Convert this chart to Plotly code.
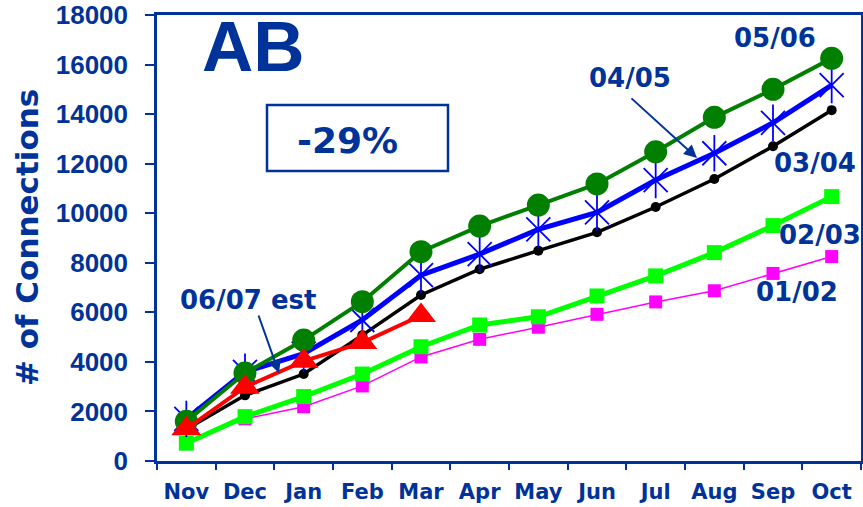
import plotly.graph_objects as go

months = ["Nov", "Dec", "Jan", "Feb", "Mar", "Apr", "May", "Jun", "Jul", "Aug", "Sep", "Oct"]
s0102 = [700, 1700, 2190, 3030, 4200, 4910, 5400, 5920, 6420, 6870, 7570, 8250]
s0203 = [720, 1790, 2600, 3510, 4610, 5490, 5820, 6660, 7470, 8410, 9500, 10670]
s0304 = [1280, 2650, 3510, 5080, 6700, 7740, 8490, 9230, 10250, 11380, 12700, 14160]
s0405 = [1700, 3600, 4330, 5690, 7500, 8350, 9350, 10030, 11340, 12420, 13650, 15170]
s0506 = [1600, 3550, 4880, 6430, 8450, 9480, 10330, 11180, 12480, 13870, 15000, 16250]
s0607_months = ["Nov", "Dec", "Jan", "Feb", "Mar"]
s0607 = [1300, 2980, 4030, 4780, 5870]
y_ticks = [0, 2000, 4000, 6000, 8000, 10000, 12000, 14000, 16000, 18000]

NAVY = "#003399"
L, R, T, B = 157, 861, 15, 461
W, H = 863, 507

def px(x):
    return (x - L) / (R - L)

def py(y):
    return (B - y) / (B - T)

fig = go.Figure()
fig.add_trace(go.Scatter(x=months, y=s0102, mode="lines+markers", name="01/02",
                         line=dict(color="#FF00FF", width=1.5),
                         marker=dict(symbol="square", size=13, color="#FF00FF")))
fig.add_trace(go.Scatter(x=months, y=s0203, mode="lines+markers", name="02/03",
                         line=dict(color="#00FF00", width=5),
                         marker=dict(symbol="square", size=15, color="#00FF00")))
fig.add_trace(go.Scatter(x=months, y=s0304, mode="lines+markers", name="03/04",
                         line=dict(color="#000000", width=3.5),
                         marker=dict(symbol="circle", size=10, color="#000000")))
fig.add_trace(go.Scatter(x=months, y=s0405, mode="lines+markers", name="04/05",
                         line=dict(color="#0000FF", width=5),
                         marker=dict(symbol="x-thin-open", size=24, color="#0000FF",
                                     line=dict(color="#0000FF", width=1.8))))
fig.add_trace(go.Scatter(x=months, y=s0405, mode="markers", name="04/05b",
                         marker=dict(symbol="line-ns-open", size=26, color="#0000FF",
                                     line=dict(color="#0000FF", width=1.8))))
fig.add_trace(go.Scatter(x=months, y=s0506, mode="lines+markers", name="05/06",
                         line=dict(color="#007F00", width=4),
                         marker=dict(symbol="circle", size=23, color="#007F00")))
fig.add_trace(go.Scatter(x=s0607_months, y=s0607, mode="lines+markers", name="06/07 est",
                         line=dict(color="#FF0000", width=4),
                         marker=dict(symbol="triangle-up", size=26, color="#FF0000")))

lab_font = dict(family="DejaVu Sans", size=26, color=NAVY)
annotations = []
for txt, cx, cy in [("05/06", 775, 38), ("04/05", 630, 78), ("03/04", 815, 163),
                    ("02/03", 820, 235), ("01/02", 797, 292), ("06/07 est", 248, 300)]:
    annotations.append(dict(text="<b>%s</b>" % txt, x=px(cx), y=py(cy), xref="paper", yref="paper",
                            xanchor="center", yanchor="middle", showarrow=False, font=lab_font))

annotations.append(dict(text="<b>AB</b>", x=px(253), y=py(47), xref="paper", yref="paper",
                        xanchor="center", yanchor="middle", showarrow=False,
                        font=dict(family="Liberation Sans", size=71, color=NAVY)))
annotations.append(dict(text="<b>-29%</b>", x=px(347), y=py(140), xref="paper", yref="paper",
                        xanchor="center", yanchor="middle", showarrow=False,
                        font=dict(family="DejaVu Sans", size=36, color=NAVY)))
annotations.append(dict(text="# of Connections", x=px(27), y=py(238), xref="paper", yref="paper",
                        xanchor="center", yanchor="middle", showarrow=False, textangle=-90,
                        font=dict(family="DejaVu Sans", size=31, color=NAVY, weight="bold")))

def xi(xpix):
    return (xpix - L) / ((R - L) / 12) - 0.5

def yv(ypix):
    return (B - ypix) / (B - T) * 18000

annotations.append(dict(text="", x=xi(697), y=yv(158), xref="x", yref="y",
                        ax=630 - 697, ay=97 - 158, showarrow=True, arrowhead=2,
                        arrowsize=1.3, arrowwidth=2, arrowcolor=NAVY))
annotations.append(dict(text="", x=xi(279), y=yv(373), xref="x", yref="y",
                        ax=258 - 279, ay=314 - 373, showarrow=True, arrowhead=2,
                        arrowsize=1.3, arrowwidth=2, arrowcolor=NAVY))

shapes = [dict(type="rect", xref="paper", yref="paper", x0=px(267), x1=px(448), y0=py(171), y1=py(105),
               line=dict(color=NAVY, width=2.5), fillcolor="rgba(0,0,0,0)")]

fig.update_layout(
    width=W, height=H,
    margin=dict(l=L, r=W - R, t=T, b=H - B, autoexpand=False),
    paper_bgcolor="white", plot_bgcolor="white",
    showlegend=False,
    annotations=annotations,
    shapes=shapes,
    xaxis=dict(type="category", categoryorder="array", categoryarray=months,
               range=[-0.5, 11.5], showgrid=False, zeroline=False, automargin=False,
               showline=True, linecolor=NAVY, linewidth=2.5, mirror=True,
               ticks="outside", tickson="boundaries", ticklen=6, tickwidth=2, tickcolor=NAVY,
               tickangle=0,
               tickfont=dict(family="DejaVu Sans", size=21, color=NAVY, weight="bold"),
               ticklabelstandoff=10),
    yaxis=dict(range=[0, 18000], showgrid=False, zeroline=False, automargin=False,
               showline=True, linecolor=NAVY, linewidth=2.5, mirror=True,
               ticks="outside", ticklen=9, tickwidth=2, tickcolor=NAVY,
               tickvals=y_ticks, ticktext=[str(v) for v in y_ticks],
               tickfont=dict(family="Liberation Sans", size=26, color=NAVY, weight="bold"),
               ticklabelstandoff=12),
)

fig.write_html("out.html", config={"displayModeBar": False},
               post_script="document.body.style.margin='0';document.body.style.overflow='hidden';")
